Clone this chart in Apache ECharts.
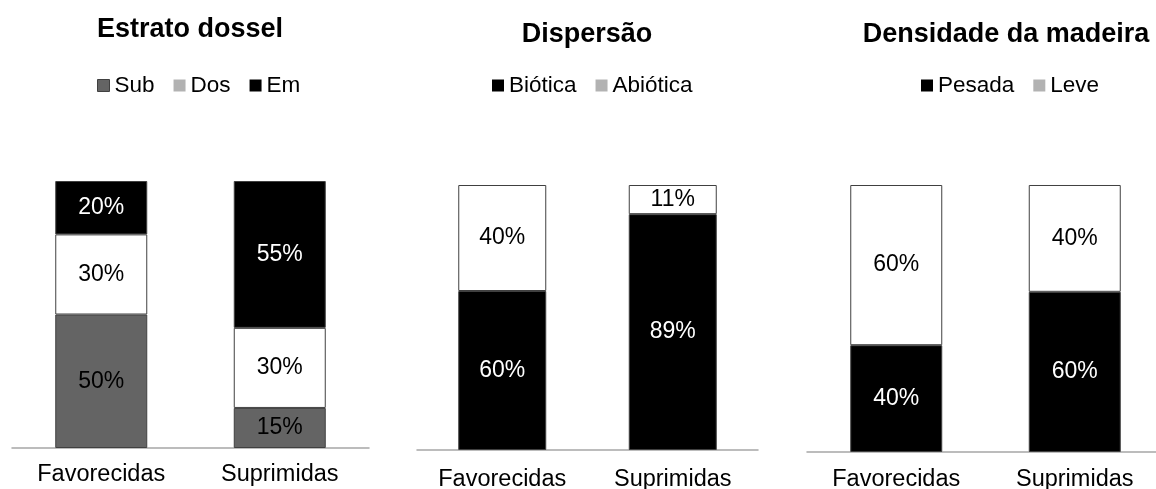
<!DOCTYPE html>
<html>
<head>
<meta charset="utf-8">
<title>Estrato dossel, Dispersão, Densidade da madeira</title>
<script src="https://cdn.jsdelivr.net/npm/echarts@6/dist/echarts.min.js"></script>
<style>
  html, body { margin: 0; padding: 0; background: #fff; }
  #chart { width: 1156px; height: 489px; }
</style>
</head>
<body>
<div id="chart"></div>
<script>
// Categories shared by the three panels
const categories = ['Favorecidas', 'Suprimidas'];

// Panel 1 – Estrato dossel (%)
const sub = [50, 15];
const dos = [30, 30];
const em = [20, 55];

// Panel 2 – Dispersão (%)
const biotica = [60, 89];
const abiotica = [40, 11];

// Panel 3 – Densidade da madeira (%)
const pesada = [40, 60];
const leve = [60, 40];

const titles = ['Estrato dossel', 'Dispersão', 'Densidade da madeira'];

const FONT = 'Liberation Sans, Arial, Helvetica, sans-serif';
const BORDER = '#404040';

const panels = [
  { left: 12, width: 357, top: 181, height: 267, barWidth: 92, margin: 15, titleX: 190, titleTop: 16, legendLeft: 97 },
  { left: 417, width: 341, top: 185, height: 265, barWidth: 88, margin: 18, titleX: 587, titleTop: 21, legendLeft: 492 },
  { left: 807, width: 357, top: 185, height: 267, barWidth: 92, margin: 16, titleX: 1006, titleTop: 21, legendLeft: 921 }
];

function stackSeries(name, data, idx, fill, textColor) {
  return {
    name: name,
    type: 'bar',
    stack: 'p' + idx,
    xAxisIndex: idx,
    yAxisIndex: idx,
    barWidth: panels[idx].barWidth,
    data: data,
    itemStyle: { color: fill, borderColor: BORDER, borderWidth: 1 },
    label: {
      show: true,
      position: 'inside',
      formatter: '{c}%',
      color: textColor,
      fontFamily: FONT,
      fontSize: 23
    },
    emphasis: { disabled: true },
    animation: false
  };
}

const legendSets = [
  [
    { name: 'Sub', itemStyle: { color: '#646464', borderColor: BORDER, borderWidth: 1 } },
    { name: 'Dos', itemStyle: { color: '#b2b2b2', borderWidth: 0 } },
    { name: 'Em', itemStyle: { color: '#000000', borderWidth: 0 } }
  ],
  [
    { name: 'Biótica', itemStyle: { color: '#000000', borderWidth: 0 } },
    { name: 'Abiótica', itemStyle: { color: '#b2b2b2', borderWidth: 0 } }
  ],
  [
    { name: 'Pesada', itemStyle: { color: '#000000', borderWidth: 0 } },
    { name: 'Leve', itemStyle: { color: '#b2b2b2', borderWidth: 0 } }
  ]
];

const option = {
  backgroundColor: '#ffffff',
  animation: false,
  title: panels.map((p, i) => ({
    text: titles[i],
    left: p.titleX,
    top: p.titleTop,
    textAlign: 'center',
    padding: 0,
    textStyle: { fontFamily: FONT, fontSize: 27, fontWeight: 'bold', color: '#000' }
  })),
  legend: panels.map((p, i) => ({
    data: legendSets[i],
    left: p.legendLeft,
    top: 74,
    padding: 0,
    itemGap: 19,
    itemWidth: 12,
    itemHeight: 12,
    icon: 'rect',
    selectedMode: false,
    textStyle: { fontFamily: FONT, fontSize: 22.5, color: '#000' }
  })),
  grid: panels.map(p => ({
    left: p.left, width: p.width, top: p.top, height: p.height,
    containLabel: false,
    outerBoundsMode: 'none'
  })),
  xAxis: panels.map((p, i) => ({
    type: 'category',
    gridIndex: i,
    data: categories,
    axisLine: { show: true, lineStyle: { color: '#a6a6a6', width: 1.5 } },
    axisTick: { show: false },
    axisLabel: { margin: p.margin, fontFamily: FONT, fontSize: 23.5, color: '#000' }
  })),
  yAxis: panels.map((p, i) => ({
    type: 'value',
    gridIndex: i,
    min: 0,
    max: 100,
    show: false,
    splitLine: { show: false }
  })),
  series: [
    stackSeries('Sub', sub, 0, '#646464', '#000'),
    stackSeries('Dos', dos, 0, '#ffffff', '#000'),
    stackSeries('Em', em, 0, '#000000', '#fff'),
    stackSeries('Biótica', biotica, 1, '#000000', '#fff'),
    stackSeries('Abiótica', abiotica, 1, '#ffffff', '#000'),
    stackSeries('Pesada', pesada, 2, '#000000', '#fff'),
    stackSeries('Leve', leve, 2, '#ffffff', '#000')
  ]
};

const chart = echarts.init(document.getElementById('chart'), null, { renderer: 'canvas' });
chart.setOption(option);
</script>
</body>
</html>
